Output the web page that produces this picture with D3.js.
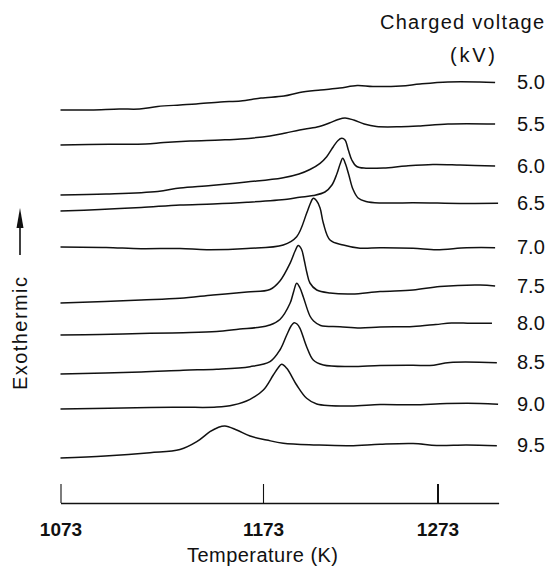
<!DOCTYPE html>
<html>
<head>
<meta charset="utf-8">
<script src="https://cdn.jsdelivr.net/npm/d3@7"></script>
<style>
  body { margin: 0; background: #fff; }
  svg { font-family: "Liberation Sans", Arial, sans-serif; }
</style>
</head>
<body>
<div id="chart"></div>
<script>
// charged voltage of each trace (kV), top to bottom
voltages = ["5.0", "5.5", "6.0", "6.5", "7.0", "7.5", "8.0", "8.5", "9.0", "9.5"];
tickTemps = [1073, 1173, 1273];

// [temperature K, exothermic signal (arb. units, traces stacked)]
s50 = [[1073,391],[1088,391],[1102,392],[1112,392],[1121,394.5],[1132,396],[1140,397],[1152,399],[1162,400],[1172,403],[1185,405],[1194,408.5],[1206,411],[1217,413],[1227,415.5],[1236,414.5],[1252,415],[1263,417],[1279,419],[1297,419],[1306,418.5]];
s55 = [[1073,356],[1097,356.7],[1115,357],[1124,358.5],[1137,360],[1152,361],[1162,362],[1177,365],[1186,368],[1194,371],[1204,374],[1211,378],[1216,381.5],[1220,383],[1225,381],[1231,377],[1238,374.5],[1252,374.3],[1262,375],[1279,377],[1306,377]];
s60 = [[1073,306],[1095.5,307],[1121,309.5],[1132,313],[1147.3,315.5],[1164.8,319],[1183.9,323],[1193.6,327],[1199.9,331.5],[1205.7,337.7],[1209.5,344.3],[1213.3,354.3],[1216,360.5],[1218.1,362.7],[1220,361],[1221.9,351],[1223.9,341],[1226.7,334.5],[1232,332.8],[1242,333],[1255,335],[1270.4,336.5],[1285.9,336],[1306,335]];
s65 = [[1073,290],[1092.5,291.5],[1112.8,293.5],[1132,296],[1148.3,297],[1165.1,298.7],[1186.8,301.7],[1194,303.7],[1201.8,305.5],[1208.5,309],[1212.5,316],[1215.3,327],[1217.2,337],[1218.7,342.7],[1220.3,337],[1222.2,326],[1224.5,312],[1227.5,303],[1232,299.5],[1240.1,298],[1259,298.3],[1285.9,297.6],[1307.7,297.7]];
s70 = [[1073,254],[1095.5,253.5],[1112.8,252.3],[1132,252.5],[1145.2,251.3],[1165.1,252.5],[1184.6,256],[1192.3,264.3],[1198,287.7],[1200,297],[1201.8,302.7],[1203.6,300.5],[1205.7,293],[1207.6,277.7],[1211.4,261],[1219,256],[1228.6,252.8],[1240.1,253.2],[1259,252.7],[1272.5,251.2],[1289.7,253.2],[1306,253.3]];
s75 = [[1073,198],[1112.8,201],[1132,202.7],[1148.3,206],[1165.1,209],[1177,211.5],[1182.7,220],[1188.5,237.7],[1191.4,250],[1193.2,255.5],[1195,252],[1196.6,241],[1198.2,228],[1199.9,218],[1203.8,211],[1211.4,208],[1224,207],[1240.1,209.5],[1259,211],[1274.4,214.5],[1297.4,216],[1306,215]];
s80 = [[1073,166],[1092.5,166.5],[1117.2,167.7],[1133.6,168.3],[1150.1,169.5],[1161.6,172],[1170,173.5],[1177,176],[1182.7,181.5],[1188.5,197.7],[1190.5,209],[1192.3,217.7],[1194.2,213],[1196.1,204],[1199.9,185],[1202,180],[1206,175.5],[1217.1,174.3],[1228.6,173],[1240.1,174],[1259,174.5],[1272,176.5],[1281,178],[1292,177.7],[1304.2,177.7]];
s85 = [[1073,127],[1112.8,129],[1133.6,130.8],[1150.1,131.7],[1166.6,134.3],[1177,139.3],[1182.7,151],[1186.6,166],[1189.1,175],[1190.8,178.3],[1192.5,177],[1194.2,172.7],[1198,154.3],[1201.8,141],[1207.6,136],[1222.9,134.5],[1240.1,135.5],[1259,135.8],[1268.7,135.5],[1280.2,138.5],[1307,138.3]];
s90 = [[1073,92],[1117.2,93.5],[1133.6,93.7],[1150.1,93.9],[1158.3,96],[1166.6,101.7],[1173.2,111],[1178.9,126],[1181.6,133],[1183.7,136.7],[1186.6,132.7],[1192.3,116],[1198,102.7],[1203.8,97],[1222.9,95],[1240.1,96.5],[1259,96.2],[1278.3,97.5],[1297.4,97.6],[1307.7,96.7]];
s95 = [[1073,43],[1095,45],[1117.2,48.3],[1132,51.5],[1140.3,59.3],[1146.8,69.3],[1150.8,73.5],[1154.2,75],[1160,71],[1166.6,65],[1175.1,61],[1184.6,57.7],[1203.8,56],[1222.9,55.3],[1240.1,56.8],[1259,57.5],[1272.5,55.6],[1289.7,56],[1307,55.3]];

traces = [s50, s55, s60, s65, s70, s75, s80, s85, s90, s95];

width = 549;
height = 567;

// the printed temperature scale is not uniform, so map it piecewise
let x = d3.scaleLinear()
  .domain([1073, 1173, 1273, 1308])
  .range([60.5, 263, 437.5, 498.6]);

let y = d3.scaleLinear()
  .domain([0, 420])
  .range([501, 81]);

let line = d3.line()
  .curve(d3.curveCatmullRom.alpha(0.5))
  .x(d => x(d[0]))
  .y(d => y(d[1]));

let svg = d3.select("#chart").append("svg")
  .attr("width", width)
  .attr("height", height);

svg.selectAll(".trace")
  .data(traces)
  .enter().append("path")
  .attr("class", "trace")
  .attr("d", d => line(d))
  .attr("fill", "none")
  .attr("stroke", "#111")
  .attr("stroke-width", 1.5)
  .attr("stroke-linejoin", "round");

// voltage label at the right end of each trace
svg.selectAll(".vlabel")
  .data(traces)
  .enter().append("text")
  .attr("class", "vlabel")
  .attr("x", 517)
  .attr("y", d => y(d[d.length - 1][1]) + 6.5)
  .attr("font-size", 20)
  .attr("fill", "#111")
  .text((d, i) => voltages[i]);

let xAxis = d3.axisBottom(x)
  .tickValues(tickTemps)
  .tickFormat(d3.format("d"))
  .tickSize(-19)
  .tickSizeOuter(0)
  .tickPadding(20);

let gx = svg.append("g")
  .attr("transform", "translate(0,503)")
  .call(xAxis);

gx.attr("font-family", null).attr("font-size", 19);
gx.select(".domain").attr("stroke", "#111").attr("stroke-width", 1.6);
gx.selectAll(".tick line")
  .attr("stroke", "#111")
  .attr("stroke-width", d => d === 1273 ? 2 : 1.1);
gx.selectAll(".tick text").attr("fill", "#111").attr("font-weight", "bold");

svg.append("text")
  .attr("x", 187)
  .attr("y", 562)
  .attr("font-size", 20)
  .attr("textLength", 151)
  .attr("fill", "#111")
  .text("Temperature (K)");

svg.append("text")
  .attr("x", 380)
  .attr("y", 29)
  .attr("font-size", 20)
  .attr("textLength", 164)
  .attr("fill", "#111")
  .text("Charged voltage");

svg.append("text")
  .attr("x", 450)
  .attr("y", 62)
  .attr("font-size", 20)
  .attr("textLength", 45)
  .attr("fill", "#111")
  .text("(kV)");

svg.append("text")
  .attr("transform", "translate(27,390) rotate(-90)")
  .attr("font-size", 20)
  .attr("textLength", 113)
  .attr("fill", "#111")
  .text("Exothermic");

// "exothermic" arrow
svg.append("line")
  .attr("x1", 20).attr("x2", 20)
  .attr("y1", 255).attr("y2", 222)
  .attr("stroke", "#111")
  .attr("stroke-width", 1.6);

svg.append("path")
  .attr("d", "M20,208 L23.5,228 L16.5,228 Z")
  .attr("fill", "#111");
</script>
</body>
</html>
